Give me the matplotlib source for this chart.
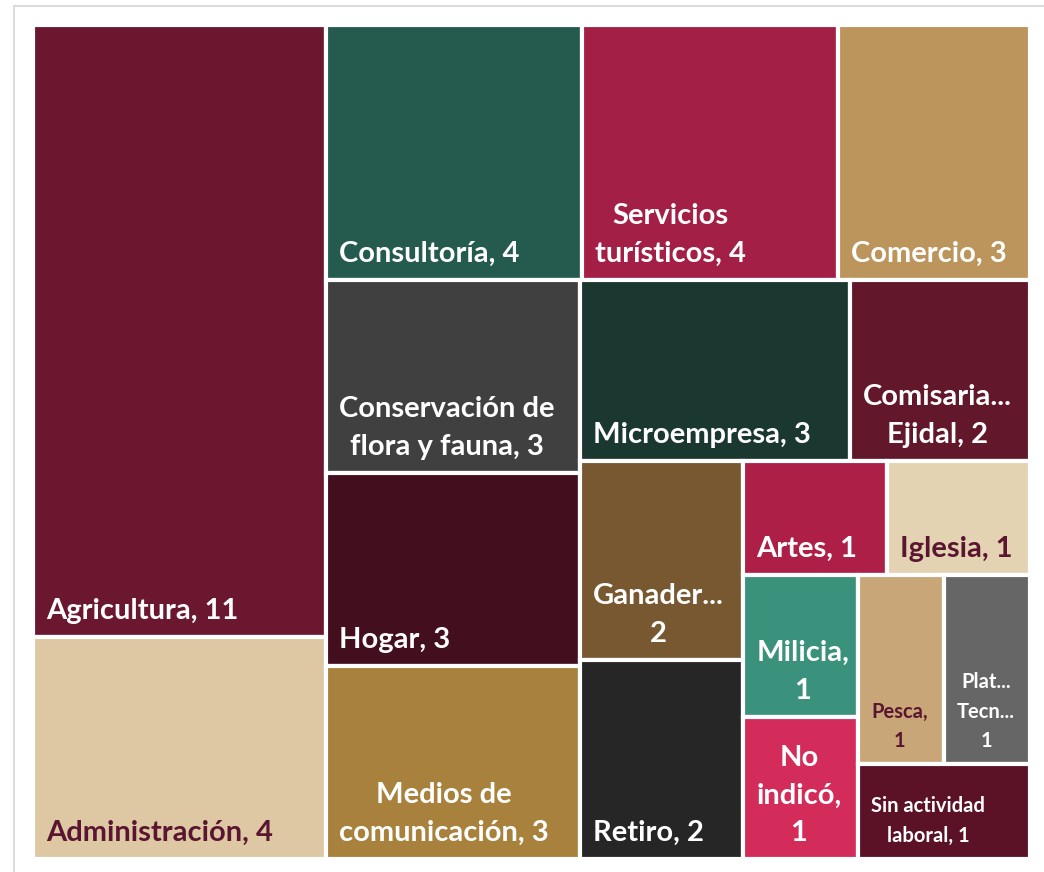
import matplotlib
matplotlib.use('Agg')
import matplotlib.pyplot as plt
from matplotlib.patches import Rectangle
from matplotlib.colors import to_rgb

plt.rcParams['font.family'] = ['Lato', 'DejaVu Sans']

# ---- data ----
categories = ['Agricultura', 'Administración', 'Consultoría', 'Servicios turísticos',
              'Comercio', 'Conservación de flora y fauna', 'Hogar', 'Medios de comunicación',
              'Microempresa', 'Comisariado Ejidal', 'Ganadería', 'Retiro', 'Artes', 'Iglesia',
              'Milicia', 'No indicó', 'Pesca', 'Plataformas Tecnológicas',
              'Sin actividad laboral']
values = [11, 4, 4, 4, 3, 3, 3, 3, 3, 2, 2, 2, 1, 1, 1, 1, 1, 1, 1]
# labels as they appear in the chart (wrapped / cut)
labels = ['Agricultura, 11', 'Administración, 4', 'Consultoría, 4', 'Servicios\nturísticos, 4',
          'Comercio, 3', 'Conservación de\nflora y fauna, 3', 'Hogar, 3',
          'Medios de\ncomunicación, 3', 'Microempresa, 3', 'Comisaria...\nEjidal, 2',
          'Ganader...\n2', 'Retiro, 2', 'Artes, 1', 'Iglesia, 1', 'Milicia,\n1',
          'No\nindicó,\n1', 'Pesca,\n1', 'Plat...\nTecn...\n1', 'Sin actividad\nlaboral, 1']
colors = ['#6b172f', '#dec8a3', '#245b4e', '#a31f45', '#bc955c', '#404040', '#430e1e',
          '#a8813d', '#1a3730', '#62172b', '#775831', '#262626', '#ae1f47', '#e4d3b2',
          '#3a917c', '#d42c5a', '#c8a677', '#666666', '#5b1227']

W, H = 997, 834          # layout box in pixels
TALL_BIAS = 1.12         # squarify slightly prefers tall cells


def aspect(w, h):
    return max(w / h * TALL_BIAS, h / w / TALL_BIAS)


def strip_worst(row, w, h, scale):
    area = sum(row) * scale
    if w <= h:
        th = area / w
        return max(aspect(v * scale / th, th) for v in row)
    tw = area / h
    return max(aspect(tw, v * scale / tw) for v in row)


def squarify(vals, x, y, w, h):
    scale = w * h / sum(vals)
    rects = []
    i = 0
    while i < len(vals):
        row = [vals[i]]
        j = i + 1
        while j < len(vals) and strip_worst(row + [vals[j]], w, h, scale) <= strip_worst(row, w, h, scale):
            row.append(vals[j])
            j += 1
        area = sum(row) * scale
        if w <= h:
            th = area / w
            cx = x
            for v in row:
                cw = v * scale / th
                rects.append((cx, y, cw, th))
                cx += cw
            y += th
            h -= th
        else:
            tw = area / h
            cy = y
            for v in row:
                ch = v * scale / tw
                rects.append((x, cy, tw, ch))
                cy += ch
            x += tw
            w -= tw
        i = j
    return rects


def text_color(c):
    r, g, b = to_rgb(c)
    return '#5a1630' if 0.299 * r + 0.587 * g + 0.114 * b > 0.64 else 'white'


fig = plt.figure(figsize=(10.44, 8.72), dpi=100)
fig.patches.append(Rectangle((14 / 1044, -0.1), 1.2, 1 - 6 / 872 + 0.1, transform=fig.transFigure,
                             fill=False, edgecolor='#dcdcdc', linewidth=1.5))

ax = fig.add_axes([33 / 1044, 1 - 859 / 872, W / 1044, H / 872])
ax.set_xlim(0, W)
ax.set_ylim(H, 0)
ax.axis('off')

for (x, y, w, h), lab, c in zip(squarify(values, 0, 0, W, H), labels, colors):
    ax.add_patch(Rectangle((x, y), w, h, facecolor=c, edgecolor='white', linewidth=3))
    small = min(w, h) < 100
    ax.text(x + 13, y + h - (17 if small else 18), lab, ha='left', va='baseline',
            multialignment='center', color=text_color(c), fontweight='bold',
            fontsize=14.5 if small else 21, linespacing=1.6 if small else 1.55)

fig.savefig('out.png', dpi=100)
